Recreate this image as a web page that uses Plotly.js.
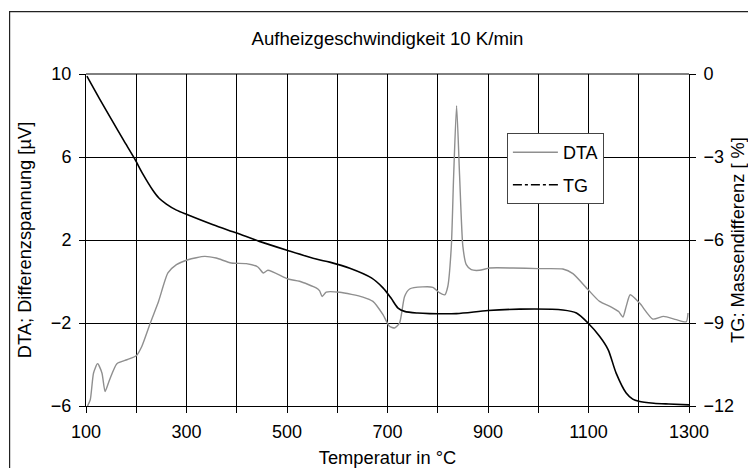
<!DOCTYPE html>
<html>
<head>
<meta charset="utf-8">
<script src="https://cdn.plot.ly/plotly-3.0.1.min.js"></script>
<style>html,body{margin:0;padding:0;background:#fff;}#chart{width:748px;height:468px;}</style>
</head>
<body>
<div id="chart"></div>
<script>
// Temperature (°C) and DTA signal (µV)
const dtaTemp = [103,108.5,115,123,131.7,138,147,161.5,181.5,200,211,228,244.5,263,280,303,336,359,389,419,442,453,462,502,525,558,565,570,578,605,651,671,691,704,714,724,734,744,770,790,804,814,820,827,831.6,837.5,843.5,850,856.8,866.7,883,903,950,1000,1049,1069,1099,1122,1145.5,1160,1168.5,1175,1183,1201.7,1228,1249.5,1274.6,1294.6,1298];
const dtaValues = [-6.0,-5.70,-4.41,-3.96,-4.41,-5.30,-4.73,-3.96,-3.77,-3.58,-3.13,-2.0,-0.95,0.41,0.81,1.05,1.21,1.13,0.89,0.86,0.70,0.41,0.54,0.12,0.01,-0.31,-0.45,-0.72,-0.51,-0.52,-0.75,-0.96,-1.60,-2.16,-2.24,-2.0,-0.72,-0.36,-0.26,-0.28,-0.55,-0.64,-0.24,1.69,5.07,8.47,5.07,1.69,0.81,0.57,0.54,0.65,0.65,0.62,0.60,0.38,-0.39,-0.96,-1.23,-1.45,-1.71,-1.2,-0.64,-1.04,-1.81,-1.68,-1.84,-1.94,-1.52];

// Temperature (°C) and TG mass difference (%)
const tgTemp = [101.8,127,153.5,175,197,213,233,245,260,280,301,353,400,445,500,558,585,625,668,691,707,721,734,760,784,837,900,963,1049,1076,1099,1122,1139,1155,1175,1188,1200,1230,1260,1300];
const tgValues = [-0.08,-0.90,-1.73,-2.40,-3.07,-3.61,-4.20,-4.48,-4.70,-4.92,-5.08,-5.45,-5.75,-6.05,-6.37,-6.69,-6.80,-7.02,-7.37,-7.73,-8.10,-8.46,-8.58,-8.64,-8.66,-8.66,-8.55,-8.50,-8.53,-8.64,-9.0,-9.48,-9.96,-10.81,-11.53,-11.75,-11.83,-11.90,-11.93,-11.96];

const xTickVals = [100,300,500,700,900,1100,1300];
const yLeftTicks = [-6,-2,2,6,10];
const yRightTicks = [-12,-9,-6,-3,0];

const FONT = 'Liberation Sans, Arial, sans-serif';

const traces = [
  {x: dtaTemp, y: dtaValues, name: 'DTA', type: 'scatter', mode: 'lines',
   line: {color: '#8f8f8f', width: 1.4, shape: 'spline', smoothing: 0.6}, legendgroup: 'a', yaxis: 'y'},
  {x: tgTemp, y: tgValues, name: 'TG', type: 'scatter', mode: 'lines',
   line: {color: '#000000', width: 1.6, shape: 'spline', smoothing: 0.8}, showlegend: false, yaxis: 'y2'},
  {x: [null], y: [null], name: 'TG', type: 'scatter', mode: 'lines',
   line: {color: '#000000', width: 1.4, dash: 'dashdot'}, legendgroup: 'b', yaxis: 'y2'}
];

const layout = {
  width: 748, height: 468,
  margin: {l: 86, r: 59, t: 74, b: 62},
  paper_bgcolor: '#ffffff', plot_bgcolor: '#ffffff',
  font: {family: FONT, size: 18, color: '#000'},
  title: {text: 'Aufheizgeschwindigkeit 10 K/min', font: {size: 18.6, family: FONT, color: '#000'},
          x: 0.5, xref: 'paper', y: 1 - 38.7/468, yref: 'container', yanchor: 'middle'},
  showlegend: true,
  legend: {x: 0.698, y: 0.822, xanchor: 'left', yanchor: 'top', bgcolor: '#ffffff',
           bordercolor: '#444', borderwidth: 1, font: {size: 18, family: FONT},
           tracegroupgap: 6, traceorder: 'grouped', itemwidth: 45},
  xaxis: {range: [100, 1300], tickvals: xTickVals, ticks: 'outside', ticklen: 6, tickcolor: '#000',
          showgrid: true, gridcolor: '#000', gridwidth: 1, showline: true, linecolor: '#000', linewidth: 1,
          zeroline: false, tickfont: {size: 18}, ticklabelstandoff: 3,
          minor: {dtick: 100, tick0: 0, showgrid: true, gridcolor: '#000', gridwidth: 1, ticks: 'outside', ticklen: 6, tickcolor: '#000'},
          title: {text: 'Temperatur in °C', font: {size: 18.3}, standoff: 11}},
  yaxis: {range: [-6, 10], tickvals: yLeftTicks, ticks: 'outside', ticklen: 6, tickcolor: '#000',
          showgrid: true, gridcolor: '#000', gridwidth: 1, showline: true, linecolor: '#000', linewidth: 1,
          zeroline: false, tickfont: {size: 18}, ticklabelstandoff: 4,
          title: {text: 'DTA; Differenzspannung [µV]', font: {size: 18.3}, standoff: 14}},
  yaxis2: {range: [-12, 0], tickvals: yRightTicks, overlaying: 'y', side: 'right', ticks: 'outside', ticklen: 6,
           tickcolor: '#000', showgrid: false, showline: true, linecolor: '#000', linewidth: 1, zeroline: false,
           tickfont: {size: 18}, ticklabelstandoff: 4,
           title: {text: 'TG: Massendifferenz [ %]', font: {size: 18.3}, standoff: 22}},
  shapes: [
    {type: 'rect', xref: 'paper', yref: 'paper', x0: -0.1267, y0: -0.4, x1: 1.3, y1: 1.1877,
     line: {color: '#222', width: 1.2}, fillcolor: 'rgba(0,0,0,0)', layer: 'above'},
    {type: 'line', xref: 'paper', yref: 'paper', x0: 0, x1: 1, y0: 1, y1: 1, line: {color: '#000', width: 1}}
  ]
};

Plotly.newPlot('chart', traces, layout, {displayModeBar: false, staticPlot: true});
</script>
</body>
</html>
